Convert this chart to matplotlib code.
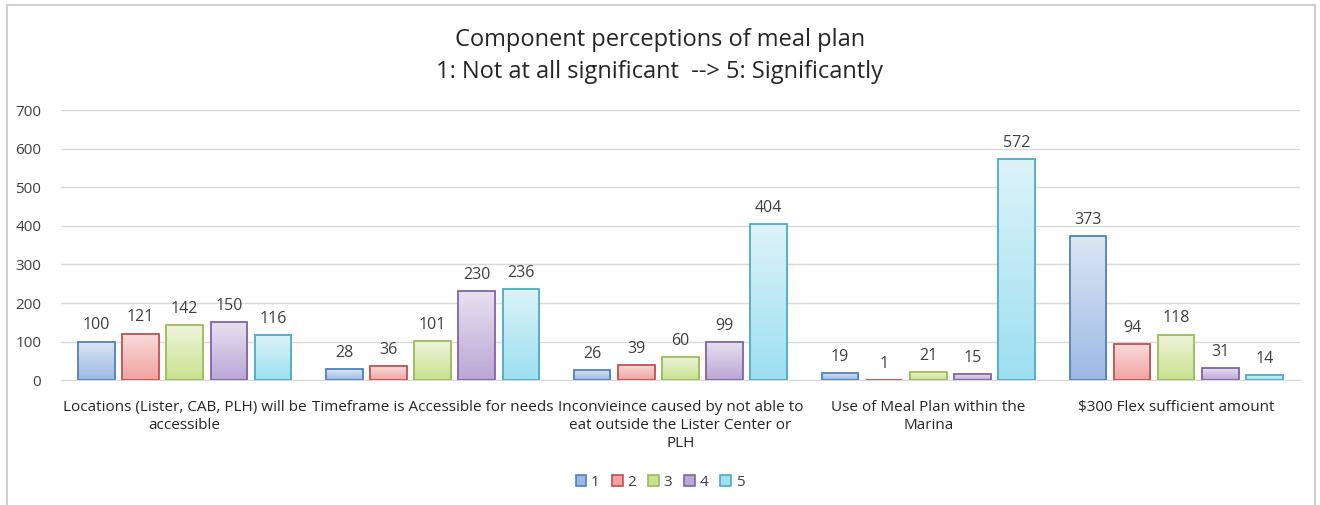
import matplotlib.pyplot as plt
import numpy as np
from matplotlib.colors import LinearSegmentedColormap
from matplotlib.patches import Patch
from matplotlib.lines import Line2D

plt.rcParams["font.family"] = ["Open Sans", "DejaVu Sans"]

categories = [
    "Locations (Lister, CAB, PLH) will be\naccessible",
    "Timeframe is Accessible for needs",
    "Inconvieince caused by not able to\neat outside the Lister Center or\nPLH",
    "Use of Meal Plan within the\nMarina",
    "\\$300 Flex sufficient amount",
]
series_names = ["1", "2", "3", "4", "5"]
vals_1 = [100, 28, 26, 19, 373]
vals_2 = [121, 36, 39, 1, 94]
vals_3 = [142, 101, 60, 21, 118]
vals_4 = [150, 230, 99, 15, 31]
vals_5 = [116, 236, 404, 572, 14]
series = [vals_1, vals_2, vals_3, vals_4, vals_5]

edge_colors = ["#4F81BD", "#C0504D", "#9BBB59", "#8064A2", "#4BACC6"]
top_colors = ["#DCE6F4", "#F9DCDB", "#EDF4DC", "#E8E0F0", "#DDF3F9"]
bot_colors = ["#9DB9E3", "#F1A3A1", "#C9E28F", "#BBA6D6", "#9CDFF0"]

fig = plt.figure(figsize=(13.2, 5.05), dpi=100)
ax = fig.add_axes([0.046, 0.247, 0.939, 0.535])

x = np.arange(len(categories))
width = 0.147
step = 0.178
grad = np.linspace(0, 1, 64).reshape(-1, 1)

for i, (vals, ec) in enumerate(zip(series, edge_colors)):
    offs = (i - 2) * step
    bars = ax.bar(x + offs, vals, width, facecolor="none", edgecolor=ec,
                  linewidth=1.3, zorder=3)
    cmap = LinearSegmentedColormap.from_list(f"g{i}", [bot_colors[i], top_colors[i]])
    for b, v in zip(bars, vals):
        bx = b.get_x()
        im = ax.imshow(grad, cmap=cmap, origin="lower", aspect="auto",
                       extent=[bx, bx + width, 0, max(v, 0.5)], zorder=2)
        im.set_clip_path(b)
        ax.annotate(f"{v}", (b.get_x() + width / 2, v), textcoords="offset points",
                    xytext=(0, 6), ha="center", va="bottom", fontsize=11.5,
                    color="#404040")

ax.set_xlim(-0.5, len(categories) - 0.5)
ax.set_ylim(0, 700)
ax.set_yticks(range(0, 701, 100))
ax.set_xticks(x)
ax.set_xticklabels(categories, fontsize=11, color="#262626", linespacing=1.3)
ax.tick_params(axis="both", length=0, labelsize=11, colors="#404040")
ax.tick_params(axis="x", pad=14, colors="#262626")
ax.tick_params(axis="y", pad=14)
ax.grid(True, axis="y", color="#D9D9D9", linewidth=1)
ax.set_axisbelow(True)
for s in ["top", "right", "left"]:
    ax.spines[s].set_visible(False)
ax.spines["bottom"].set_color("#D9D9D9")

fig.text(0.5, 0.92, "Component perceptions of meal plan", ha="center", va="center",
         fontsize=17, color="#262626")
fig.text(0.5, 0.857, "1: Not at all significant  --> 5: Significantly", ha="center",
         va="center", fontsize=17, color="#262626")

handles = [Patch(facecolor=t, edgecolor=e, linewidth=1.2) for t, e in zip(bot_colors, edge_colors)]
fig.legend(handles, series_names, loc="center", bbox_to_anchor=(0.5, 0.045), ncol=5,
           frameon=False, handlelength=0.7, handleheight=0.7, handletextpad=0.3,
           columnspacing=0.8, fontsize=11, labelcolor="#404040")

# outer chart frame
fc = "#D0D0D0"
fig.add_artist(Line2D([0.0055, 0.0055], [0.0, 0.99], color=fc, lw=1.5))
fig.add_artist(Line2D([0.0055, 0.996], [0.99, 0.99], color=fc, lw=1.5))
fig.add_artist(Line2D([0.996, 0.996], [0.0, 0.99], color=fc, lw=1.5))

fig.savefig("out.png", dpi=100)
